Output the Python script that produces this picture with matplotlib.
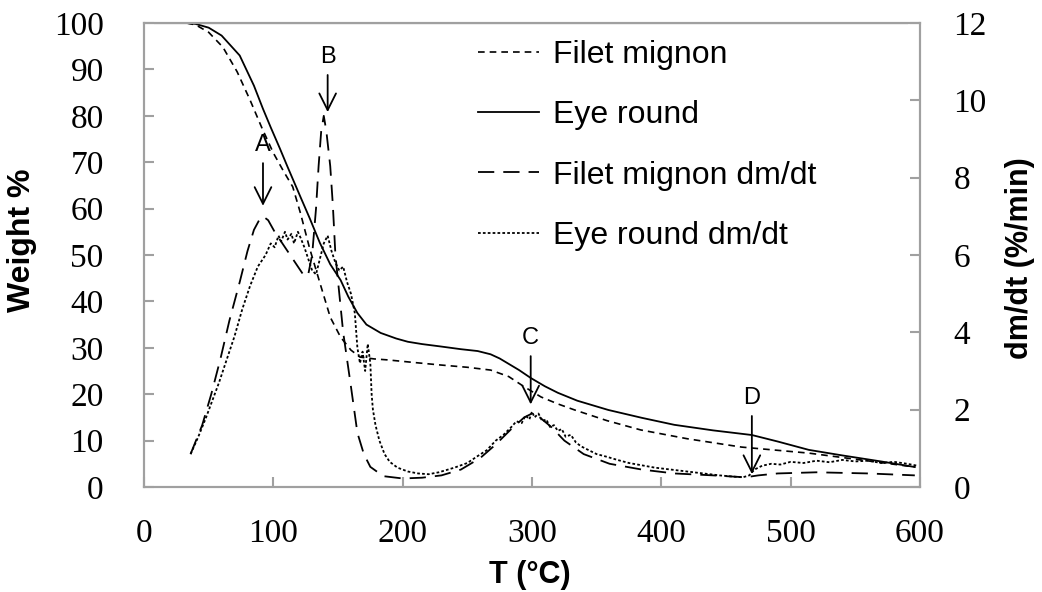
import matplotlib
matplotlib.use("Agg")
import matplotlib.pyplot as plt

# weight curves (left axis, %)
eye_T = [33, 40, 50, 60, 74, 85, 92, 98, 105, 111, 121, 128, 136, 144, 152, 158, 165, 172, 183, 195,
         204, 215, 229, 245, 258, 268, 275, 281, 290, 299, 310, 320, 335, 359, 385, 410, 440, 470, 490,
         514, 540, 570, 596]
eye_W = [100, 99.8, 99, 97.3, 93, 86.5, 81.5, 77.5, 73, 69, 62.5, 58, 52.6, 48, 44.6, 41, 37.5, 35,
         33.2, 32, 31.3, 30.8, 30.3, 29.7, 29.3, 28.6, 27.7, 26.7, 25.2, 23.5, 21.7, 20.3, 18.6, 16.6,
         14.9, 13.4, 12.2, 11.2, 9.8, 8.0, 6.8, 5.5, 4.3]

filet_T = [33, 40, 50, 61, 72, 82, 91, 100, 108, 115, 121, 128, 136, 144, 152, 160, 167, 178, 188, 210,
           229, 250, 268, 282, 294, 307, 320, 333, 358, 384, 420, 462, 490, 514, 555, 596]
filet_W = [100, 99.6, 98, 94.8, 89.5, 83.4, 77.5, 72, 68, 64.7, 59, 51.5, 44, 36.6, 32.3, 29.5, 28, 27.6,
           27.4, 26.8, 26.3, 25.8, 25.2, 23.8, 21.6, 19.4, 17.9, 16.6, 14.3, 12.3, 10.4, 8.6, 7.9, 7.3,
           5.8, 4.3]

# derivative curves (right axis, %/min)
fm_T = [36, 45, 52, 59, 66, 74, 80, 85, 89, 92, 96, 101, 107, 113, 119, 124, 127, 130, 133, 135, 137,
        139, 141, 144, 146, 148, 151, 154, 157, 160, 165, 170, 175, 185, 200, 215, 230, 245, 260, 272,
        284, 294, 300, 306, 315, 325, 340, 360, 385, 410, 440, 465, 475, 490, 520, 560, 596]
fm_R = [0.85, 1.6, 2.4, 3.3, 4.3, 5.3, 6.1, 6.65, 6.9, 7.0, 6.9, 6.6, 6.3, 6.0, 5.7, 5.45, 5.5, 6.0,
        7.2, 8.3, 9.2, 9.6, 9.2, 8.3, 7.3, 6.0, 5.0, 4.0, 3.3, 2.6, 1.4, 0.85, 0.52, 0.28, 0.22, 0.24,
        0.3, 0.45, 0.75, 1.1, 1.5, 1.8, 1.9, 1.8, 1.55, 1.2, 0.85, 0.6, 0.45, 0.35, 0.3, 0.25, 0.3,
        0.35, 0.38, 0.35, 0.3]

er_T = [36, 42, 48, 53, 58, 64, 70, 76, 82, 88, 94, 98, 101, 104, 106, 109, 111, 114, 116, 119, 121,
        124, 127, 130, 133, 136, 139, 142, 145, 148, 151, 154, 157, 160, 163, 165, 167, 169, 171, 173,
        175, 176, 177, 179, 182, 186, 190, 196, 204, 212, 220, 228, 240, 250, 258, 265, 272, 278, 284,
        288, 292, 295, 298, 300, 302, 305, 308, 311, 314, 317, 320, 323, 326, 330, 334, 338, 344, 350,
        358, 366, 375, 385, 395, 405, 415, 425, 435, 445, 455, 463, 468, 472, 478, 485, 492, 500, 510,
        520, 530, 540, 550, 560, 570, 580, 590, 598]
er_R = [0.85, 1.3, 1.8, 2.25, 2.7, 3.3, 3.9, 4.6, 5.2, 5.7, 6.0, 6.3, 6.2, 6.5, 6.35, 6.6, 6.4, 6.55,
        6.3, 6.6, 6.45, 6.2, 5.9, 5.6, 5.5, 5.9, 6.3, 6.5, 6.1, 5.8, 5.6, 5.7, 5.3, 5.0, 4.5, 3.6, 3.2,
        3.5, 3.0, 3.7, 3.2, 2.4, 2.0, 1.6, 1.2, 0.85, 0.65, 0.5, 0.4, 0.35, 0.33, 0.38, 0.5, 0.62, 0.8,
        0.95, 1.2, 1.35, 1.55, 1.7, 1.65, 1.85, 1.75, 1.95, 1.8, 1.9, 1.7, 1.75, 1.55, 1.6, 1.45, 1.5,
        1.3, 1.35, 1.15, 1.05, 0.95, 0.85, 0.78, 0.7, 0.62, 0.56, 0.5, 0.46, 0.42, 0.38, 0.34, 0.3,
        0.27, 0.25, 0.3, 0.45, 0.55, 0.6, 0.58, 0.65, 0.62, 0.68, 0.64, 0.7, 0.66, 0.68, 0.62, 0.65,
        0.6, 0.55]

# reference line along 100 %
top_line_T = [8, 591]

# annotation labels: (text, T, label y, arrow tip y) in weight units
marks = [("A", 92, 73.7, 60), ("B", 142, 92.7, 80.2), ("C", 299, 32.1, 17.2), ("D", 470, 19.2, 2.2)]

gray = "#a0a0a0"
sans = ["Liberation Sans", "DejaVu Sans"]
serif = ["Liberation Serif", "DejaVu Serif"]

fig = plt.figure(figsize=(10.42, 5.92), dpi=100)
ax = fig.add_axes([0.1382, 0.1774, 0.7447, 0.7837])
ax2 = ax.twinx()

l1, = ax.plot(filet_T, filet_W, color="black", lw=1.2, linestyle=(0, (4, 3)))
l2, = ax.plot(eye_T, eye_W, color="black", lw=1.3, linestyle="-")
ax.hlines(100, top_line_T[0], top_line_T[1], color="black", lw=1.5)
l3, = ax2.plot(fm_T, fm_R, color="black", lw=1.3, linestyle=(0, (9, 5)))
l4, = ax2.plot(er_T, er_R, color="black", lw=1.3, linestyle=(0, (1.5, 1.2)))

ax.set_xlim(0, 600)
ax.set_ylim(0, 100)
ax2.set_ylim(0, 12)
ax.set_xticks(range(0, 601, 100))
ax.set_yticks(range(0, 101, 10))
ax2.set_yticks(range(0, 13, 2))

for a in (ax, ax2):
    for s in a.spines.values():
        s.set_color(gray)
        s.set_linewidth(1.5)
ax.tick_params(axis="both", direction="in", length=7, width=1.5, color=gray)
ax.tick_params(axis="y", pad=29)
ax.tick_params(axis="x", pad=23)
ax2.tick_params(axis="y", direction="in", length=7, width=1.5, color=gray, pad=24)
for lab in ax.get_xticklabels() + ax.get_yticklabels() + ax2.get_yticklabels():
    lab.set_fontfamily(serif)
    lab.set_fontsize(24)

ax.set_xlabel("T (°C)", fontsize=22, fontweight="bold", family=sans)
ax.set_ylabel("Weight %", fontsize=23, fontweight="bold", family=sans)
ax2.set_ylabel("dm/dt (%/min)", fontsize=22, fontweight="bold", family=sans)
ax.xaxis.set_label_coords(0.497, -0.157)
ax.yaxis.set_label_coords(-0.138, 0.532)
ax2.yaxis.set_label_coords(1.110, 0.494)

for txt, t, ylab, ytip in marks:
    ax.annotate("", xy=(t, ytip), xytext=(t, ylab - 3.3),
                arrowprops=dict(arrowstyle="->,head_length=1.2,head_width=0.6", color="black", lw=1.3))
    ax.text(t, ylab, txt, ha="center", va="center", fontsize=17, family=sans)

leg = ax.legend([l1, l2, l3, l4],
                ["Filet mignon", "Eye round", "Filet mignon dm/dt", "Eye round dm/dt"],
                loc="upper left", bbox_to_anchor=(0.402, 1.012), frameon=False,
                prop={"family": sans, "size": 23}, handlelength=1.9, handletextpad=0.45,
                labelspacing=0.95, borderaxespad=0.3)

fig.savefig("out.png", dpi=100)
